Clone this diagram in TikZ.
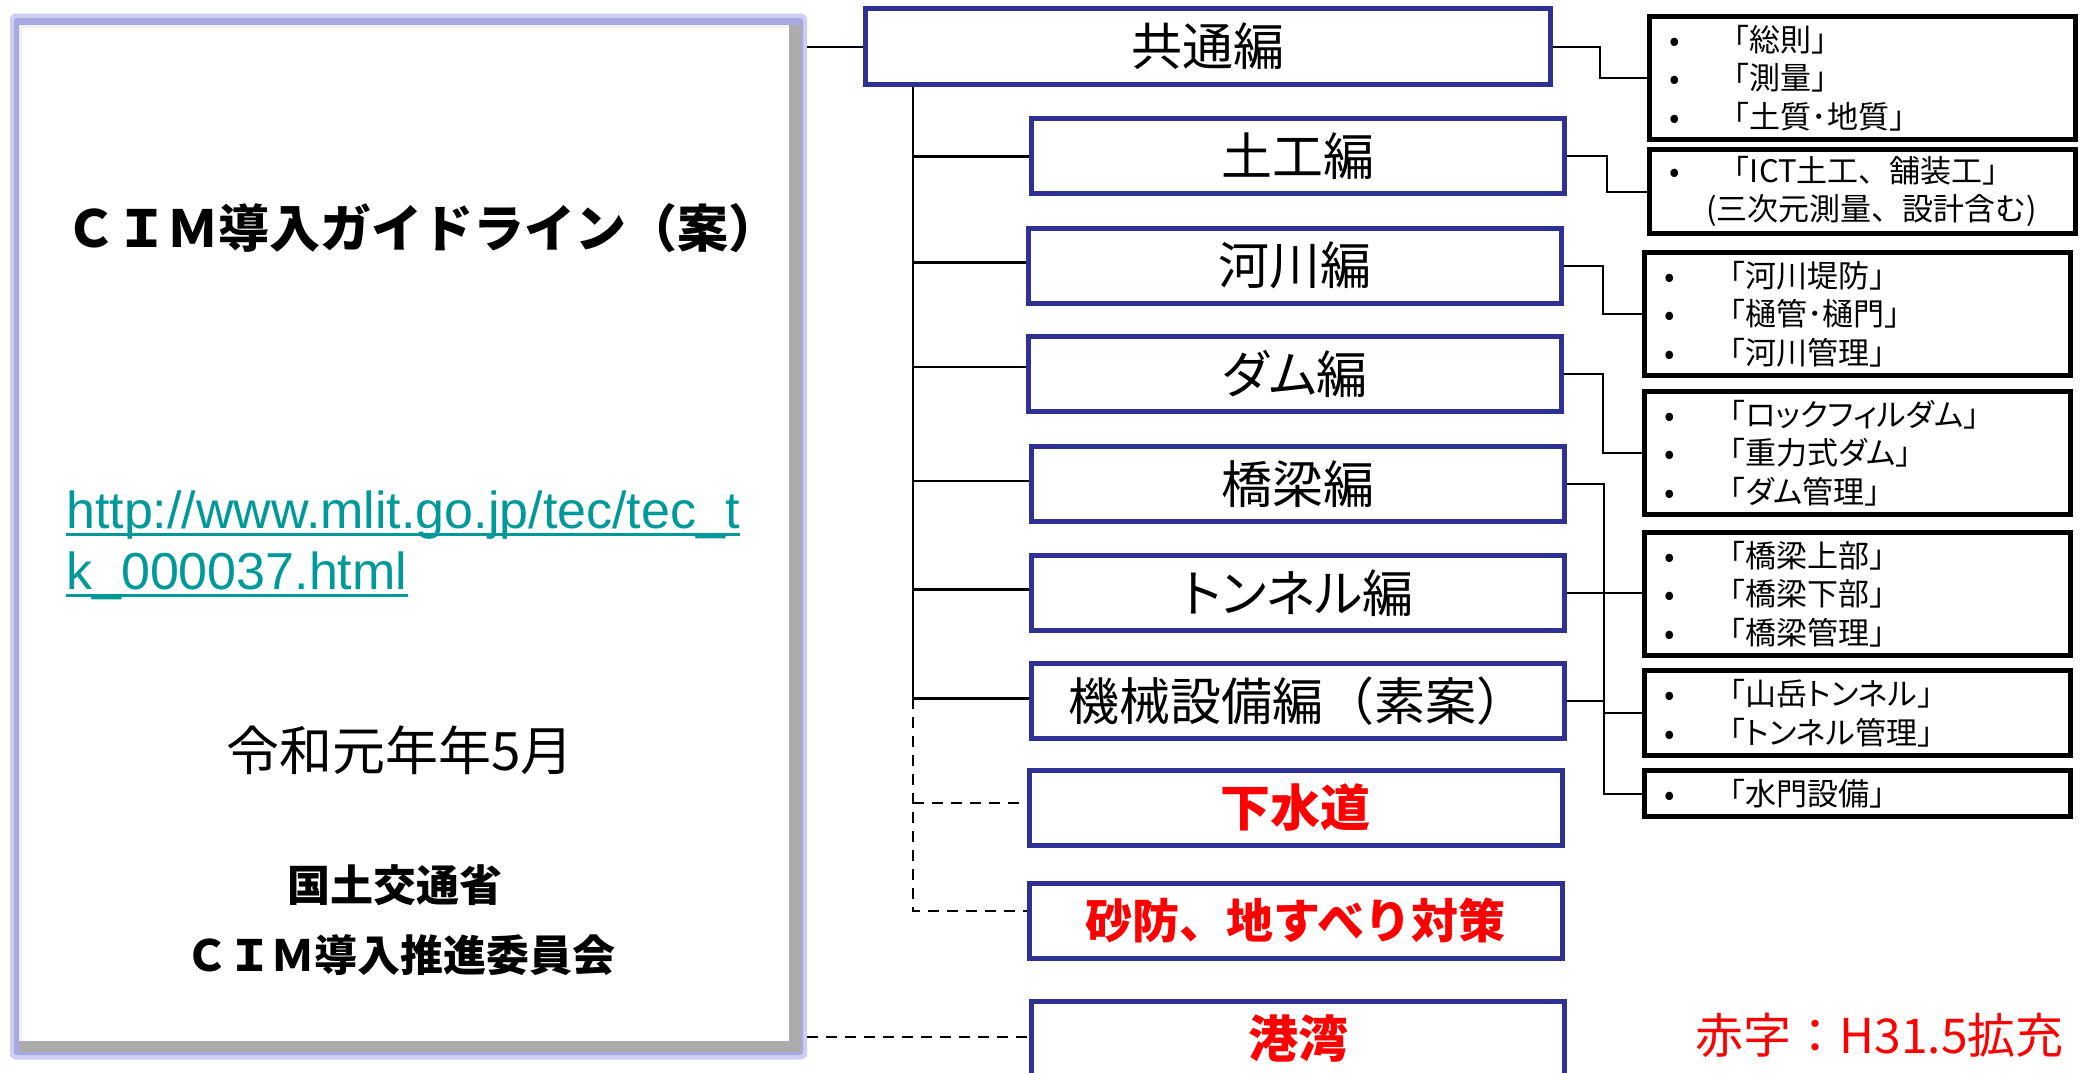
\documentclass[tikz,border=0pt]{standalone}
\usepackage{fontspec}
\setmainfont{Noto Sans CJK JP}
\newfontfamily\urlfont{Liberation Sans}
\newfontfamily\paltfont{Noto Sans CJK JP}[RawFeature=+palt]
\definecolor{navy}{RGB}{46,49,146}
\definecolor{lav}{RGB}{168,168,226}
\definecolor{lavlight}{RGB}{206,206,242}
\definecolor{urlteal}{RGB}{0,153,153}
\definecolor{redtxt}{RGB}{255,0,0}
\newcommand\lstbul{\makebox[50pt][l]{•}}
\newcommand\pk[1]{{\paltfont #1}}
\begin{document}
\begin{tikzpicture}[x=1pt,y=-1pt,
  chap/.style={draw=navy, line width=5pt, fill=white, minimum width=533pt, minimum height=75pt, inner sep=0pt, font=\fontsize{51}{55}\selectfont},
  redchap/.style={chap, text=redtxt, font=\bfseries\fontsize{50}{55}\selectfont},
  list/.style={draw=black, line width=5pt, fill=white, minimum width=426pt, inner xsep=20pt, inner ysep=0pt, text width=386pt, align=left, font=\fontsize{31}{38.5}\selectfont},
  conn/.style={line width=2pt},
  thickconn/.style={line width=3pt},
  dashline/.style={line width=2pt, dash pattern=on 11pt off 8pt}
]
\useasboundingbox (0,0) rectangle (2082,1072);
\fill[white] (0,0) rectangle (2082,1072);

% cover of the guideline
\node[fill=lavlight, rounded corners=6pt, minimum width=797pt, minimum height=1046pt, inner sep=0pt] (cover) at (408.5,536.5) {};
\fill[lav, rounded corners=3pt] (14,18) rectangle (803,1055);
\fill[gray!65] (19,25) rectangle (801,1052);
\fill[gray!12] (19,25) rectangle (789,1041);
\fill[white] (22,28) rectangle (789,1041);

\node[font=\bfseries\fontsize{51}{53}\selectfont] (title) at (422,228) {ＣＩＭ導入ガイドライン（案）};
\node[anchor=base west, inner sep=0pt, text=urlteal, font=\urlfont\fontsize{52}{55}\selectfont] (url1) at (66,528) {http://www.mlit.go.jp/tec/tec\_t};
\node[anchor=base west, inner sep=0pt, text=urlteal, font=\urlfont\fontsize{52}{55}\selectfont] (url2) at (66,589) {k\_000037.html};
\draw[urlteal, line width=3.5pt] ([yshift=-6.5pt]url1.base west) -- ([yshift=-6.5pt]url1.base east);
\draw[urlteal, line width=3.5pt] ([yshift=-6.5pt]url2.base west) -- ([yshift=-6.5pt]url2.base east);
\node[font=\fontsize{53}{55}\selectfont] (date) at (400,750) {令和元年年5月};
\node[font=\bfseries\fontsize{43}{45}\selectfont] (org1) at (395,885) {国土交通省};
\node[font=\bfseries\fontsize{43}{45}\selectfont] (org2) at (400,955) {ＣＩＭ導入推進委員会};

% chapters
\node[chap, minimum width=685pt, minimum height=76pt] (kyotsu) at (1208,46.5) {共通編};
\node[chap] (doko) at (1298,156) {土工編};
\node[chap] (kasen) at (1295,265.5) {河川編};
\node[chap] (dam) at (1295,374) {\pk{ダム}編};
\node[chap] (kyoryo) at (1298,484) {橋梁編};
\node[chap] (tunnel) at (1298,593) {\pk{トンネル}編};
\node[chap] (kikai) at (1298,701) {機械設備編（素案）};
\node[redchap] (gesui) at (1295.5,807.5) {下水道};
\node[redchap, font=\bfseries\fontsize{47}{50}\selectfont] (sabo) at (1295.5,920.5) {砂防、地すべり対策};
\node[redchap] (kowan) at (1298,1039) {港湾};

% contents lists
\node[list, minimum height=123pt] (r1) at (1862,78) {\lstbul「総則」\\\lstbul「測量」\\\lstbul「土質･地質」};
\node[list, minimum height=84pt] (r2) at (1862,191.5) {\lstbul「ICT土工、舗装工」\\\hspace*{37pt}(三次元測量、設計含む)};
\node[list, minimum height=123pt] (r3) at (1857.5,314) {\lstbul「河川堤防」\\\lstbul「樋管･樋門」\\\lstbul「河川管理」};
\node[list, minimum height=123pt] (r4) at (1857.5,453) {\lstbul「\pk{ロックフィルダム}」\\\lstbul「重力式\pk{ダム}」\\\lstbul「\pk{ダム}管理」};
\node[list, minimum height=123pt] (r5) at (1857.5,594) {\lstbul「橋梁上部」\\\lstbul「橋梁下部」\\\lstbul「橋梁管理」};
\node[list, minimum height=85pt] (r6) at (1857.5,713) {\lstbul「山岳\pk{トンネル}」\\\lstbul「\pk{トンネル}管理」};
\node[list, minimum height=46pt] (r7) at (1857.5,793.5) {\lstbul「水門設備」};

\node[anchor=east, inner sep=0pt, text=redtxt, font=\fontsize{48}{50}\selectfont] (note) at (2064,1035) {赤字：H31.5拡充};

% tree connectors
\coordinate (trunk) at (913,0);
\draw[conn] (cover.east |- kyotsu.west) -- (kyotsu.west);
\draw[conn] (trunk |- kyotsu.south) -- (trunk |- kikai.west);
\draw[thickconn] (trunk |- doko.west) -- (doko.west);
\draw[thickconn] ([yshift=3pt]trunk |- kasen.west) -- ([yshift=3pt]kasen.west);
\draw[conn] ([yshift=7pt]trunk |- dam.west) -- ([yshift=7pt]dam.west);
\draw[conn] ([yshift=3pt]trunk |- kyoryo.west) -- ([yshift=3pt]kyoryo.west);
\draw[thickconn] ([yshift=4pt]trunk |- tunnel.west) -- ([yshift=4pt]tunnel.west);
\draw[thickconn] ([yshift=3pt]trunk |- kikai.west) -- ([yshift=3pt]kikai.west);
\draw[dashline] ([yshift=3pt]trunk |- kikai.west) -- ([yshift=9.5pt]trunk |- sabo.west) -- ([yshift=9.5pt]sabo.west);
\draw[dashline] ([yshift=4.5pt]trunk |- gesui.west) -- ([yshift=4.5pt]gesui.west);
\draw[dashline] ([yshift=2.5pt]cover.east |- kowan.west) -- ([yshift=2.5pt]kowan.west);

% list connectors
\coordinate (bus) at (1604,0);
\draw[conn] (kyotsu.east) -- ++(47,0) |- (r1.west);
\draw[conn] (doko.east) -- ++(40,0) |- (r2.west);
\draw[conn] (kasen.east) -- ++(39,0) |- (r3.west);
\draw[conn] (dam.east) -- ++(39,0) |- (r4.west);
\draw[conn] (kyoryo.east) -| (bus |- r7.west) -- (r7.west);
\draw[conn] (tunnel.east) -- (tunnel.east -| r5.west);
\draw[conn] (kikai.east) -- (bus |- kikai.east);
\draw[conn] (bus |- r6.west) -- (r6.west);
\end{tikzpicture}
\end{document}
